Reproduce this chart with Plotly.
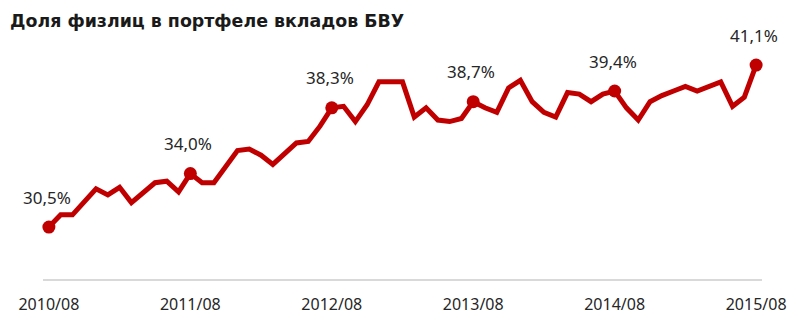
import plotly.graph_objects as go

months = [f"{y}/{m:02d}" for y in range(2010, 2016) for m in range(1, 13)]
months = months[months.index("2010/08"):months.index("2015/08") + 1]

values = [
    30.5, 31.3, 31.3, 32.1, 33.0, 32.6, 33.1, 32.1, 32.7, 33.4, 33.5, 32.8,
    34.0, 33.4, 33.4, 34.4, 35.5, 35.6, 35.2, 34.6, 35.3, 36.0, 36.1, 37.1,
    38.3, 38.4, 37.4, 38.5, 40.0, 40.0, 40.0, 37.7, 38.3, 37.5, 37.4, 37.6,
    38.7, 38.3, 38.0, 39.6, 40.1, 38.7, 38.0, 37.7, 39.3, 39.2, 38.7, 39.2,
    39.4, 38.3, 37.5, 38.7, 39.1, 39.4, 39.7, 39.4, 39.7, 40.0, 38.4, 39.0,
    41.1,
]

tick_labels = ["2010/08", "2011/08", "2012/08", "2013/08", "2014/08", "2015/08"]
title_text = "Доля физлиц в портфеле вкладов БВУ"

idx = list(range(len(months)))
mark_idx = [months.index(t) for t in tick_labels]
mark_vals = [values[i] for i in mark_idx]
mark_text = [f"{v:.1f}%".replace(".", ",") for v in mark_vals]

red = "#C00000"

fig = go.Figure()
fig.add_trace(go.Scatter(
    x=idx, y=values, mode="lines",
    line=dict(color=red, width=5),
    hoverinfo="skip", showlegend=False, cliponaxis=False,
))
fig.add_trace(go.Scatter(
    x=mark_idx, y=mark_vals, mode="markers",
    marker=dict(color=red, size=13),
    showlegend=False, cliponaxis=False,
))

for xi, yv, t in zip(mark_idx, mark_vals, mark_text):
    fig.add_annotation(
        x=xi, y=yv, xref="x", yref="y", text=t, showarrow=False,
        yshift=30, xshift=-2,
        font=dict(family="Noto Sans", size=17, color="#262626"),
    )

fig.update_layout(
    width=800, height=330,
    margin=dict(l=43, r=38, t=36, b=51),
    paper_bgcolor="white", plot_bgcolor="white",
    title=dict(
        text=f"<b>{title_text}</b>",
        x=10 / 800, xanchor="left", xref="container",
        y=1 - 21 / 330, yanchor="middle", yref="container",
        font=dict(family="DejaVu Sans", size=17.4, color="#1a1a1a"),
    ),
    xaxis=dict(
        range=[-0.5, len(months) - 0.5],
        tickvals=mark_idx, ticktext=tick_labels,
        showgrid=False, zeroline=False,
        showline=True, linecolor="#D9D9D9", linewidth=2,
        ticks="", ticklabelstandoff=10,
        tickfont=dict(family="Noto Sans", size=16, color="#262626"),
        fixedrange=True,
    ),
    yaxis=dict(
        range=[27.1, 43.0],
        showgrid=False, zeroline=False, showline=False,
        showticklabels=False, ticks="",
        fixedrange=True,
    ),
)

fig.write_html("out.html")
